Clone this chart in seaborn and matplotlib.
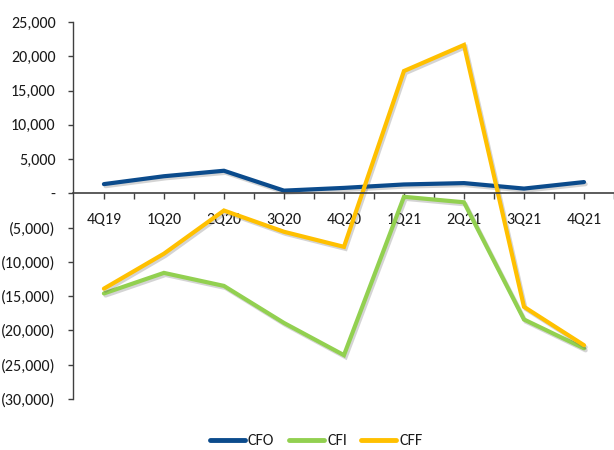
import matplotlib
matplotlib.use("Agg")
import matplotlib.pyplot as plt
import matplotlib.patheffects as pe
from matplotlib.ticker import FixedLocator, FuncFormatter
import numpy as np
import pandas as pd
import seaborn as sns

# Quarterly cash flows
quarters = ["4Q19", "1Q20", "2Q20", "3Q20", "4Q20", "1Q21", "2Q21", "3Q21", "4Q21"]
cfo = [1350, 2500, 3300, 400, 800, 1300, 1500, 700, 1650]
cfi = [-14600, -11600, -13500, -18900, -23600, -500, -1300, -18400, -22600]
cff = [-13900, -8800, -2500, -5600, -7800, 17850, 21650, -16550, -22150]

series_names = ["CFO", "CFI", "CFF"]
series_colors = ["#0B4B8C", "#92D050", "#FFC000"]
y_ticks = [25000, 20000, 15000, 10000, 5000, 0, -5000, -10000, -15000, -20000, -25000, -30000]

df = pd.DataFrame({
    "quarter": quarters * 3,
    "pos": list(range(len(quarters))) * 3,
    "value": cfo + cfi + cff,
    "series": [s for s in series_names for _ in quarters],
})

sns.set_theme(style="white")
plt.rcParams["font.family"] = ["Carlito", "Sofia Sans Semi Condensed", "Liberation Sans", "DejaVu Sans"]
text_color = "#1A1A1A"
font_size = 11.5

fig = plt.figure(figsize=(6.14, 4.5), dpi=100)
ax = fig.add_axes([0.1189, 0.1133, 0.8811, 0.8378])

sns.lineplot(data=df, x="pos", y="value", hue="series", hue_order=series_names,
             palette=dict(zip(series_names, series_colors)), linewidth=3.0,
             ax=ax, legend=False, sort=False)

shadow = [pe.SimpleLineShadow(offset=(1.2, -1.5), alpha=0.25, shadow_color="#555555"), pe.Normal()]
for line in ax.get_lines():
    line.set_path_effects(shadow)
    line.set_solid_joinstyle("miter")

ax.set_xlim(-0.515, 8.48)
ax.set_ylim(-30000, 25000)

# y axis
ax.yaxis.set_major_locator(FixedLocator(y_ticks))

def fmt(v, _):
    if v == 0:
        return "-"
    if v < 0:
        return f"({abs(v):,.0f})"
    return f"{v:,.0f}"

ax.yaxis.set_major_formatter(FuncFormatter(fmt))
ax.tick_params(axis="y", which="major", direction="out", length=3.5, width=1,
               color="#404040", pad=9, labelsize=font_size, labelcolor=text_color, left=True)

# x axis sits at zero
ax.spines["bottom"].set_position(("data", 0))
ax.spines["bottom"].set_color("#404040")
ax.spines["bottom"].set_linewidth(1.2)
ax.spines["left"].set_color("#404040")
ax.spines["left"].set_linewidth(1.0)
ax.spines["left"].set_linestyle((0, (2, 1)))
ax.spines["top"].set_visible(False)
ax.spines["right"].set_visible(False)

ax.set_xticks(range(len(quarters)))
ax.set_xticklabels(quarters)
ax.set_xticks(np.arange(-0.5, len(quarters), 1.0)[1:], minor=True)
ax.tick_params(axis="x", which="both", direction="out", length=4, width=1,
               color="#404040", bottom=True)
ax.tick_params(axis="x", which="major", pad=10, labelsize=font_size, labelcolor=text_color)
ax.set_xlabel("")
ax.set_ylabel("")
ax.grid(False)

handles = [plt.Line2D([], [], color=c, linewidth=3.5) for c in series_colors]
fig.legend(handles, series_names, loc="center", bbox_to_anchor=(0.515, 0.02), ncol=3,
           frameon=False, fontsize=font_size, handlelength=2.2, handletextpad=0.2,
           columnspacing=0.9, labelcolor=text_color)

fig.savefig("out.png", dpi=100)
